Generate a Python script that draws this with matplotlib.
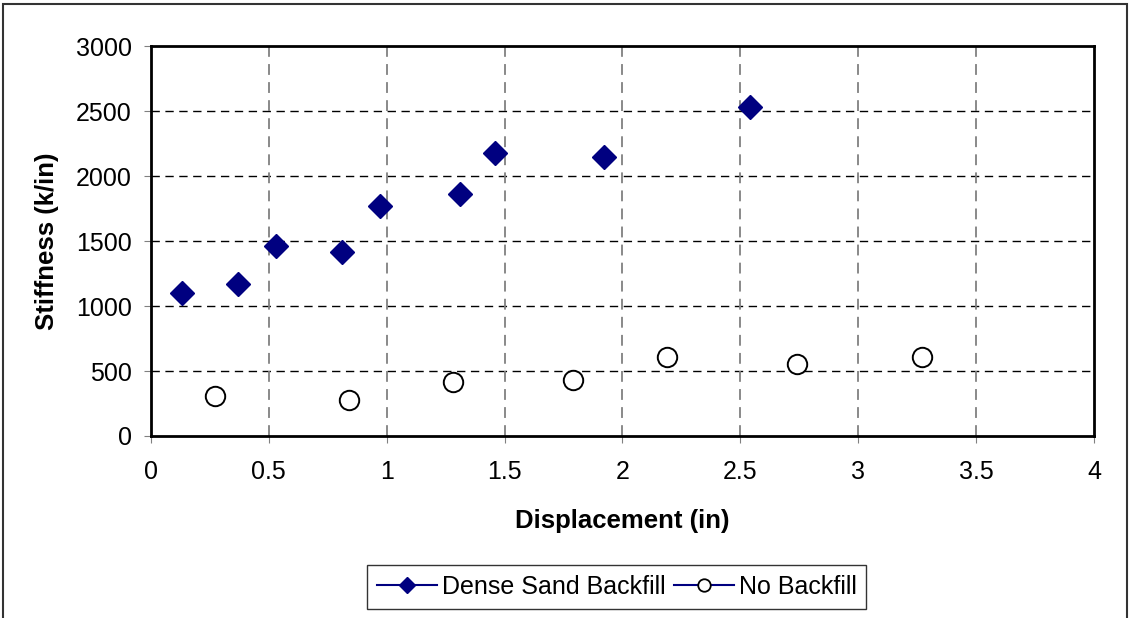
import matplotlib
matplotlib.use("Agg")
import matplotlib.pyplot as plt
from matplotlib.lines import Line2D
from matplotlib.patches import Rectangle

# data
dense_x = [0.13, 0.37, 0.53, 0.81, 0.97, 1.31, 1.46, 1.92, 2.54]
dense_y = [1100, 1170, 1460, 1415, 1770, 1860, 2180, 2150, 2530]
nobf_x = [0.27, 0.84, 1.28, 1.79, 2.19, 2.74, 3.27]
nobf_y = [310, 280, 415, 430, 605, 555, 605]
xticks = [0, 0.5, 1, 1.5, 2, 2.5, 3, 3.5, 4]
xtick_labels = ["0", "0.5", "1", "1.5", "2", "2.5", "3", "3.5", "4"]
yticks = [0, 500, 1000, 1500, 2000, 2500, 3000]

NAVY = "#000080"
plt.rcParams["font.family"] = ["Liberation Sans", "DejaVu Sans"]

fig = plt.figure(figsize=(11.3, 6.18), dpi=100)
ax = fig.add_axes([0.1336, 0.2945, 0.8345, 0.631])

ax.plot(dense_x, dense_y, linestyle="none", marker="D", ms=12,
        color=NAVY, mec=NAVY, zorder=3)
ax.plot(nobf_x, nobf_y, linestyle="none", marker="o", ms=14,
        mfc="white", mec="black", mew=1.4, zorder=3)

ax.set_xlim(0, 4)
ax.set_ylim(0, 3000)
ax.set_xticks(xticks)
ax.set_xticklabels(xtick_labels)
ax.set_yticks(yticks)
ax.tick_params(labelsize=18, direction="out", length=5, color="#808080")
ax.tick_params(axis="x", pad=12)
ax.tick_params(axis="y", pad=9)

for y in yticks[1:-1]:
    ax.axhline(y, color="black", lw=1, ls=(0, (6, 4)), zorder=1)
for x in xticks[1:-1]:
    ax.axvline(x, color="#808080", lw=1.3, ls=(0, (6, 4)), zorder=1)

for sp in ax.spines.values():
    sp.set_linewidth(2)
    sp.set_color("black")

ax.set_xlabel("Displacement (in)", fontsize=18.5, fontweight="bold", labelpad=18)
ax.set_ylabel("Stiffness (k/in)", fontsize=18.5, fontweight="bold", labelpad=12)

handles = [
    Line2D([], [], color=NAVY, lw=1.5, marker="D", ms=8, mfc=NAVY, mec=NAVY),
    Line2D([], [], color=NAVY, lw=1.5, marker="o", ms=9, mfc="white", mec="black", mew=1.3),
]
leg = fig.legend(handles, ["Dense Sand Backfill", "No Backfill"], loc="center",
                 bbox_to_anchor=(0.546, 0.05), ncol=2, fontsize=18, frameon=True,
                 fancybox=False, edgecolor="black", handlelength=2.4,
                 handletextpad=0.2, columnspacing=0.3, borderpad=0.4)
leg.get_frame().set_linewidth(1)

fig.patches.append(Rectangle((0.003, -0.02), 0.994, 1.014, transform=fig.transFigure,
                             fill=False, edgecolor="#333333", lw=1.5))

fig.savefig("out.png", dpi=100)
